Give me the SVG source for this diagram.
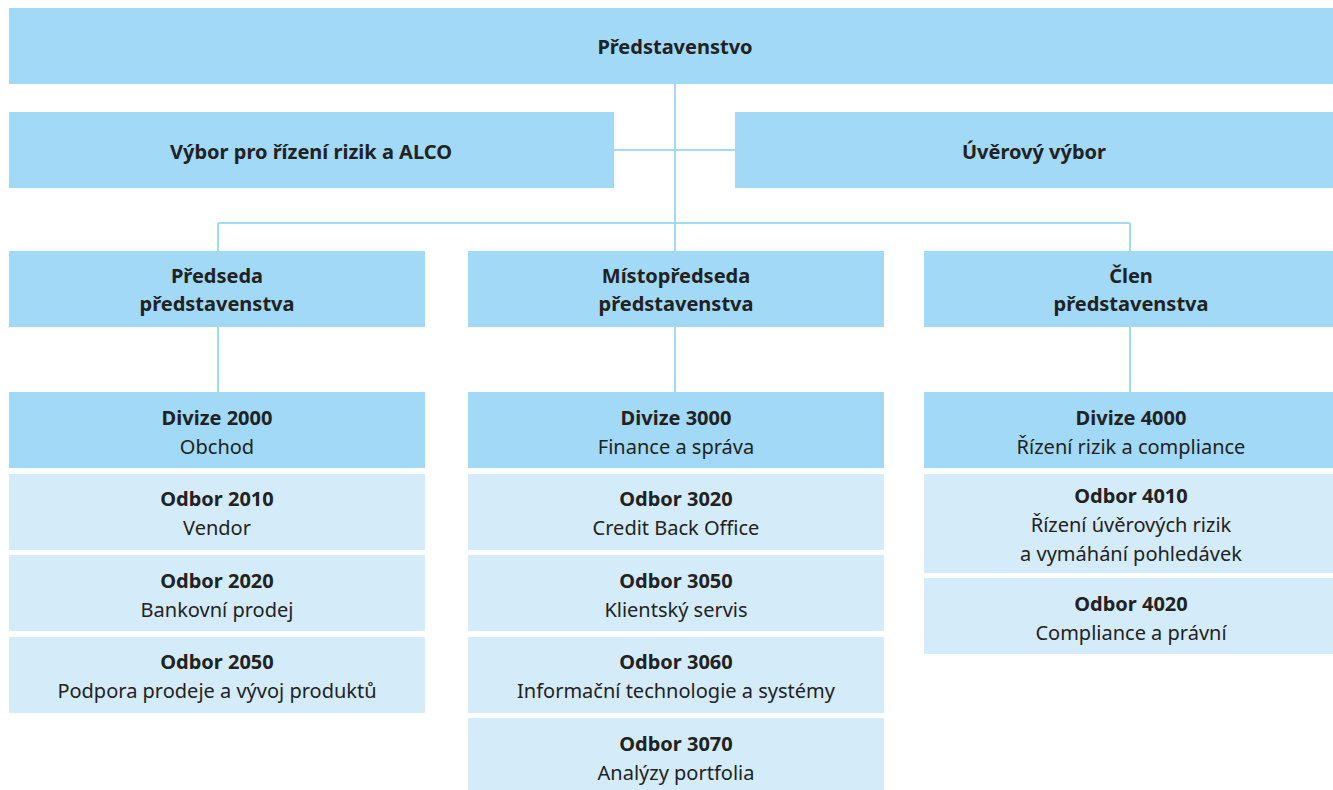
<svg xmlns="http://www.w3.org/2000/svg" width="1333" height="790" viewBox="0 0 1333 790">
<style>
.d{fill:#a1d9f7}
.l{fill:#d4ebfa}
text{font-family:"Noto Sans","Open Sans",sans-serif;font-size:20px;fill:#222;text-anchor:middle}
.b{font-weight:bold}
.c{stroke:#a1d9f7;stroke-width:2;fill:none}
</style>
<rect width="1333" height="790" fill="#fff"/>
<g id="connectors">
<path class="c" d="M675 83V251M614 150H735M218 223H1130M218 223V251M1130 223V251M218 327V392M675 327V392M1130 327V392"/>
</g>
<g id="board"><rect class="d" x="9" y="8" width="1324" height="76"/><text class="b" x="675" y="54">Představenstvo</text></g>
<g id="alco"><rect class="d" x="9" y="112" width="605" height="76"/><text class="b" x="311" y="159">Výbor pro řízení rizik a ALCO</text></g>
<g id="credit"><rect class="d" x="735" y="112" width="598" height="76"/><text class="b" x="1034" y="159">Úvěrový výbor</text></g>
<g id="chair"><rect class="d" x="9" y="251" width="416" height="76"/><text class="b" x="217" y="283">Předseda</text><text class="b" x="217" y="311">představenstva</text></g>
<g id="vice"><rect class="d" x="468" y="251" width="416" height="76"/><text class="b" x="676" y="283">Místopředseda</text><text class="b" x="676" y="311">představenstva</text></g>
<g id="member"><rect class="d" x="924" y="251" width="409" height="76"/><text class="b" x="1131" y="283">Člen</text><text class="b" x="1131" y="311">představenstva</text></g>
<g id="d2000"><rect class="d" x="9" y="392" width="416" height="76"/><text class="b" x="217" y="425">Divize 2000</text><text x="217" y="454">Obchod</text></g>
<g id="o2010"><rect class="l" x="9" y="474" width="416" height="76"/><text class="b" x="217" y="506">Odbor 2010</text><text x="217" y="535">Vendor</text></g>
<g id="o2020"><rect class="l" x="9" y="555" width="416" height="76"/><text class="b" x="217" y="588">Odbor 2020</text><text x="217" y="617">Bankovní prodej</text></g>
<g id="o2050"><rect class="l" x="9" y="637" width="416" height="76"/><text class="b" x="217" y="669">Odbor 2050</text><text x="217" y="698">Podpora prodeje a vývoj produktů</text></g>
<g id="d3000"><rect class="d" x="468" y="392" width="416" height="76"/><text class="b" x="676" y="425">Divize 3000</text><text x="676" y="454">Finance a správa</text></g>
<g id="o3020"><rect class="l" x="468" y="474" width="416" height="76"/><text class="b" x="676" y="506">Odbor 3020</text><text x="676" y="535">Credit Back Office</text></g>
<g id="o3050"><rect class="l" x="468" y="555" width="416" height="76"/><text class="b" x="676" y="588">Odbor 3050</text><text x="676" y="617">Klientský servis</text></g>
<g id="o3060"><rect class="l" x="468" y="637" width="416" height="76"/><text class="b" x="676" y="669">Odbor 3060</text><text x="676" y="698">Informační technologie a systémy</text></g>
<g id="o3070"><rect class="l" x="468" y="718" width="416" height="72"/><text class="b" x="676" y="751">Odbor 3070</text><text x="676" y="780">Analýzy portfolia</text></g>
<g id="d4000"><rect class="d" x="924" y="392" width="409" height="76"/><text class="b" x="1131" y="425">Divize 4000</text><text x="1131" y="454">Řízení rizik a compliance</text></g>
<g id="o4010"><rect class="l" x="924" y="474" width="409" height="99"/><text class="b" x="1131" y="503">Odbor 4010</text><text x="1131" y="532">Řízení úvěrových rizik</text><text x="1131" y="561">a vymáhání pohledávek</text></g>
<g id="o4020"><rect class="l" x="924" y="578" width="409" height="76"/><text class="b" x="1131" y="611">Odbor 4020</text><text x="1131" y="640">Compliance a právní</text></g>
</svg>
